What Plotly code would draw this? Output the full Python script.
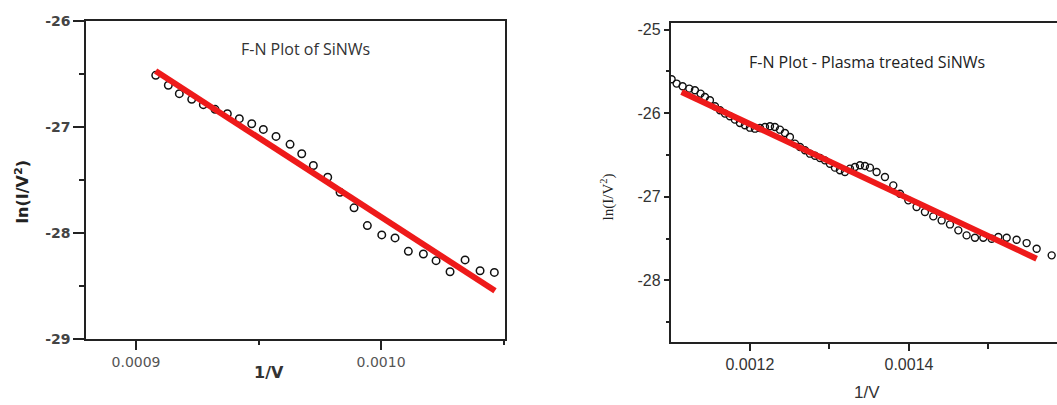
import plotly.graph_objects as go

# ---------- Left panel: F-N Plot of SiNWs ----------
left_x = [0.00090804, 0.00091318, 0.00091767, 0.00092273, 0.00092747, 0.00093224,
          0.00093727, 0.00094216, 0.00094722, 0.00095196, 0.00095714, 0.00096286,
          0.00096763, 0.00097237, 0.00097824, 0.00098327, 0.00098898, 0.00099441,
          0.00100029, 0.00100571, 0.00101114, 0.00101727, 0.00102245, 0.00102816,
          0.00103429, 0.00104041, 0.00104624]
left_y = [-26.514, -26.608, -26.687, -26.741, -26.791, -26.835, -26.876, -26.923,
          -26.971, -27.025, -27.091, -27.166, -27.254, -27.365, -27.476, -27.618,
          -27.765, -27.933, -28.021, -28.049, -28.176, -28.201, -28.264, -28.368,
          -28.257, -28.359, -28.375]
left_fit_x = [0.000908, 0.0010465]
left_fit_y = [-26.473, -28.548]

# ---------- Right panel: Plasma treated SiNWs ----------
right_x = [0.0011015, 0.0011078, 0.0011153, 0.0011237, 0.0011308, 0.0011379, 0.0011434,
           0.0011497, 0.0011560, 0.0011623, 0.0011686, 0.0011748, 0.0011811, 0.0011874,
           0.0011937, 0.0012000, 0.0012063, 0.0012126, 0.0012189, 0.0012252, 0.0012314,
           0.0012377, 0.0012440, 0.0012503, 0.0012566, 0.0012629, 0.0012692, 0.0012755,
           0.0012818, 0.0012881, 0.0012943, 0.0013006, 0.0013069, 0.0013132, 0.0013195,
           0.0013258, 0.0013321, 0.0013384, 0.0013447, 0.0013509, 0.0013593, 0.0013698,
           0.0013803, 0.0013887, 0.0013992, 0.0014096, 0.0014201, 0.0014306, 0.0014411,
           0.0014516, 0.0014621, 0.0014725, 0.0014830, 0.0014935, 0.0015040, 0.0015124,
           0.0015229, 0.0015354, 0.0015480, 0.0015606, 0.0015795]
right_y = [-25.594, -25.646, -25.678, -25.706, -25.726, -25.766, -25.806, -25.846,
           -25.917, -25.965, -26.005, -26.037, -26.077, -26.117, -26.145, -26.173,
           -26.185, -26.177, -26.165, -26.157, -26.165, -26.197, -26.237, -26.284,
           -26.364, -26.404, -26.444, -26.484, -26.508, -26.536, -26.564, -26.604,
           -26.651, -26.683, -26.703, -26.663, -26.643, -26.623, -26.631, -26.651,
           -26.703, -26.763, -26.863, -26.963, -27.042, -27.122, -27.182, -27.234,
           -27.282, -27.330, -27.401, -27.461, -27.489, -27.489, -27.501, -27.481,
           -27.489, -27.513, -27.553, -27.621, -27.700]
right_fit_x = [0.00111405, 0.00156059]
right_fit_y = [-25.746, -27.740]

left_yticks = [-29, -28, -27, -26]
left_xticks = [0.0009, 0.0010]
left_xtick_text = ["0.0009", "0.0010"]
right_yticks = [-28, -27, -26, -25]
right_xticks = [0.0012, 0.0014]
right_xtick_text = ["0.0012", "0.0014"]

W = 1057
# vertical placement helper (pixel row from the top -> paper fraction)
TOP_OFF, USABLE_H = 7.86, 388.4


def py(row):
    return 1 - (row - TOP_OFF) / USABLE_H


RED = "#ee1a1a"
fig = go.Figure()

fig.add_trace(go.Scatter(x=left_x, y=left_y, mode="markers",
                         marker=dict(symbol="circle-open", size=7.5, color="#111111",
                                     line=dict(width=1.5, color="#111111")),
                         xaxis="x", yaxis="y", showlegend=False))
fig.add_trace(go.Scatter(x=left_fit_x, y=left_fit_y, mode="lines",
                         line=dict(color=RED, width=6), xaxis="x", yaxis="y", showlegend=False))
fig.add_trace(go.Scatter(x=right_x, y=right_y, mode="markers",
                         marker=dict(symbol="circle-open", size=7, color="#111111",
                                     line=dict(width=1.4, color="#111111")),
                         xaxis="x2", yaxis="y2", showlegend=False))
fig.add_trace(go.Scatter(x=right_fit_x, y=right_fit_y, mode="lines",
                         line=dict(color=RED, width=6), xaxis="x2", yaxis="y2", showlegend=False))

axis_common = dict(showgrid=False, zeroline=False, showline=True, linecolor="#222222",
                   linewidth=1.6, ticks="outside", tickcolor="#222222", tickwidth=1.6)

fig.update_layout(
    width=W, height=405,
    margin=dict(l=0, r=0, t=0, b=0),
    paper_bgcolor="white", plot_bgcolor="white",
    xaxis=dict(**axis_common, domain=[0.0814, 0.4778], range=[0.0008796, 0.0010506],
               anchor="y", mirror=True, ticklen=10,
               tickvals=left_xticks, ticktext=left_xtick_text,
               tickfont=dict(family="DejaVu Sans", size=14, color="#555555"),
               minor=dict(ticks="outside", dtick=0.00005, tick0=0.0009, ticklen=5,
                          tickcolor="#222222", tickwidth=1.6, showgrid=False)),
    yaxis=dict(**axis_common, domain=[py(338), py(20.7)], range=[-29, -26],
               anchor="x", mirror=True, ticklen=11,
               tickvals=left_yticks, ticktext=["<b>%d</b>" % v for v in left_yticks],
               tickfont=dict(family="DejaVu Sans", size=14, color="#444444"),
               minor=dict(ticks="outside", dtick=0.5, tick0=-29, ticklen=5,
                          tickcolor="#222222", tickwidth=1.6, showgrid=False)),
    xaxis2=dict(**axis_common, domain=[0.6345, 1.0], range=[0.0011003, 0.0015862],
                anchor="y2", mirror=True, ticklen=7,
                tickvals=right_xticks, ticktext=right_xtick_text,
                tickfont=dict(family="Liberation Sans", size=16, color="#333333"),
                minor=dict(ticks="outside", dtick=0.0001, tick0=0.0011, ticklen=5,
                           tickcolor="#222222", tickwidth=1.6, showgrid=False)),
    yaxis2=dict(**axis_common, domain=[py(341.7), py(22.7)], range=[-28.74, -24.92],
                anchor="x2", mirror=False, ticklen=5,
                tickvals=right_yticks, ticktext=[str(v) for v in right_yticks],
                tickfont=dict(family="Liberation Sans", size=16, color="#333333"),
                minor=dict(ticks="outside", dtick=0.5, tick0=-28.5, ticklen=3,
                           tickcolor="#222222", tickwidth=1.6, showgrid=False)),
)

annotations = [
    dict(text="F-N Plot of SiNWs", x=305, y=49, font=dict(family="Open Sans", size=16, color="#333333")),
    dict(text="<b>1/V</b>", x=269, y=372, font=dict(family="DejaVu Sans", size=16, color="#333333")),
    dict(text="<b>ln(I/V<sup>2</sup>)</b>", x=22, y=192, textangle=-90,
         font=dict(family="DejaVu Sans", size=16, color="#222222")),
    dict(text="F-N Plot - Plasma treated SiNWs", x=867, y=62,
         font=dict(family="Open Sans", size=16, color="#222222")),
    dict(text="1/V", x=867, y=392, font=dict(family="Liberation Sans", size=17, color="#333333")),
    dict(text="ln(I/V<sup>2</sup>)", x=607, y=197, textangle=-90,
         font=dict(family="Liberation Serif", size=15, color="#222222")),
]
for a in annotations:
    fig.add_annotation(xref="paper", yref="paper", x=a["x"] / W, y=py(a["y"]),
                       xanchor="center", yanchor="middle", showarrow=False,
                       text=a["text"], font=a["font"], textangle=a.get("textangle", 0))

fig.write_html("out.html", config={"displayModeBar": False},
               post_script="document.body.style.margin='0';document.body.style.overflow='hidden';")
